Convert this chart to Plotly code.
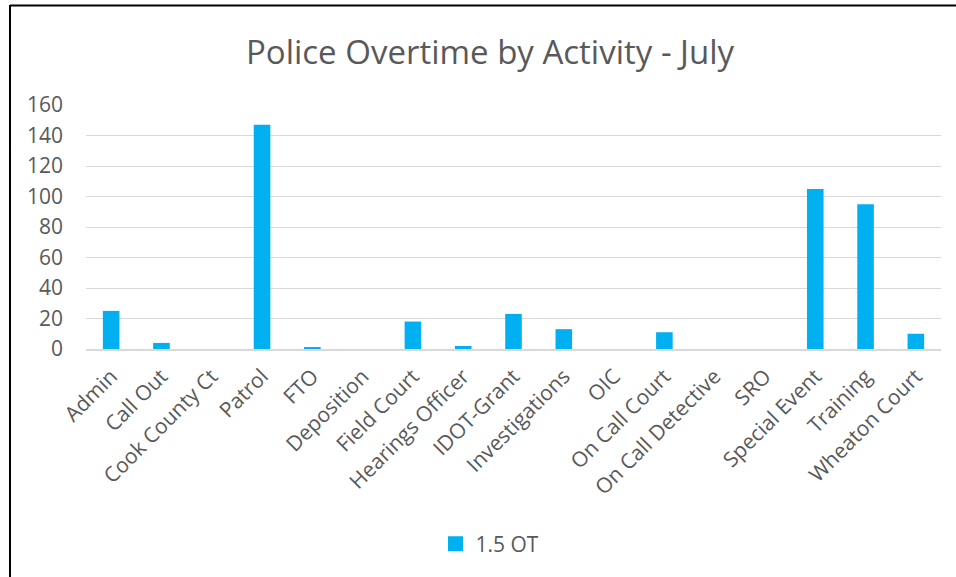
import plotly.graph_objects as go

categories = ["Admin", "Call Out", "Cook County Ct", "Patrol", "FTO", "Deposition",
              "Field Court", "Hearings Officer", "IDOT-Grant", "Investigations", "OIC",
              "On Call Court", "On Call Detective", "SRO", "Special Event", "Training",
              "Wheaton Court"]
ot_15 = [25, 4, 0, 147, 1, 0, 18, 2, 23, 13, 0, 11, 0, 0, 105, 95, 10]
y_ticks = [0, 20, 40, 60, 80, 100, 120, 140, 160]

W, H = 956, 577
L, R, T, B = 86, 15, 105, 228
pw = W - L - R
ph = H - T - B

def px_x(px):
    return (px - L) / pw

def px_y(py):
    return (H - B - py) / ph

grey = "#595959"
blue = "#00B0F0"
fig = go.Figure()
fig.add_trace(go.Bar(x=categories, y=ot_15, name="1.5 OT", marker_color=blue,
                     marker_line_width=0, showlegend=False))
# legend-only entry with a larger square swatch
fig.add_trace(go.Scatter(x=[None], y=[None], mode="markers", name="1.5 OT",
                         marker=dict(symbol="square", size=15, color=blue)))

fig.update_layout(
    width=W, height=H,
    margin=dict(l=L, r=R, t=T, b=B),
    paper_bgcolor="white", plot_bgcolor="white",
    font=dict(family="Open Sans", color=grey, size=21),
    title=dict(text="Police Overtime by Activity - July", x=490 / W, xref="container",
               xanchor="center", y=1 - 52 / H, yanchor="middle", yref="container",
               font=dict(size=33, color=grey, family="Open Sans")),
    bargap=0.67,
    showlegend=True,
    legend=dict(orientation="h", x=px_x(490), xanchor="center", y=px_y(544),
                yanchor="middle", font=dict(size=21, color=grey), itemwidth=30),
    xaxis=dict(tickangle=-45, showgrid=False, showline=True, linecolor="#d9d9d9",
               linewidth=1.5, ticks="", ticklabelstandoff=5,
               tickfont=dict(size=21, color=grey)),
    yaxis=dict(range=[0, 160], tickvals=y_ticks, showgrid=True, gridcolor="#d9d9d9",
               gridwidth=1.3, zeroline=False, showline=False, ticks="",
               ticklabelstandoff=22, tickfont=dict(size=21, color=grey)),
)

# Chart-area border (left and top edges visible in the reference)
fig.add_shape(type="line", xref="paper", yref="paper", x0=px_x(10), x1=px_x(10),
              y0=px_y(5), y1=px_y(H + 5), line=dict(color="black", width=2))
fig.add_shape(type="line", xref="paper", yref="paper", x0=px_x(10), x1=px_x(W + 5),
              y0=px_y(5.5), y1=px_y(5.5), line=dict(color="black", width=2))

fig.write_html("out.html")
